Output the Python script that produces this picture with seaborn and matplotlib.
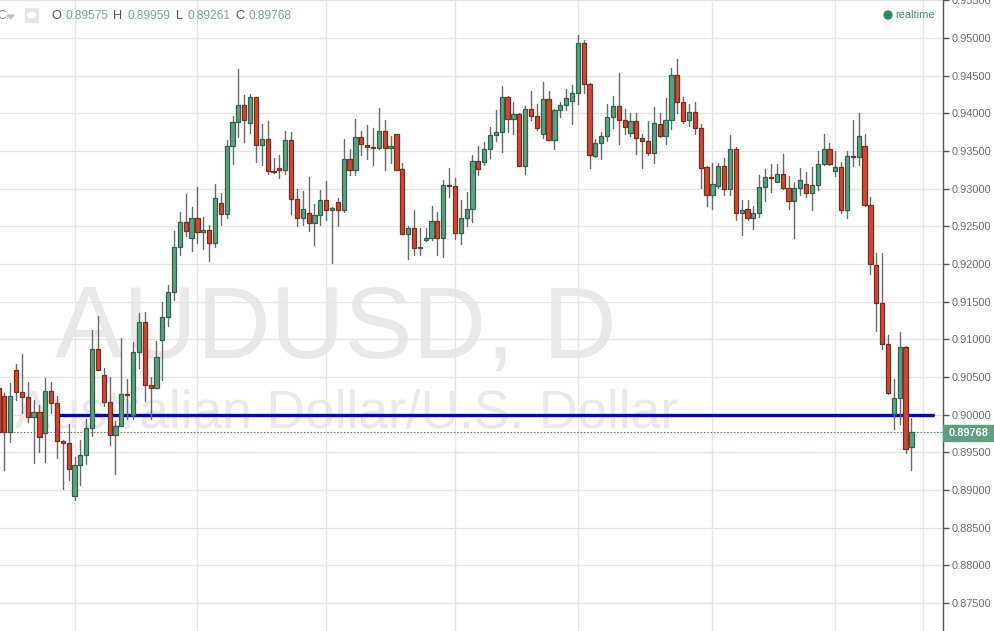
import matplotlib
matplotlib.use("Agg")
import matplotlib.pyplot as plt
from matplotlib.patches import Rectangle, Polygon, Ellipse
import numpy as np
import pandas as pd
import seaborn as sns

# --- chart values ---
opens = [
    .90354, .90252, .8977, .90597, .90301, .90234, .89965, .90035, .89757, .90314,
    .90155, .89651, .89624, .88917, .89333, .89465, .89823, .90871, .90526, .90168,
    .8973, .8985, .90274, .89996, .90831, .91229, .90393, .90354, .9099, .91295,
    .91627, .92223, .92555, .92338, .92608, .92418, .92449, .92272, .92807, .92661,
    .93558, .93881, .94106, .93868, .94212, .93576, .93655, .93231, .93271, .93244,
    .93642, .9286, .92608, .9267, .92537, .92648, .92846, .9271, .9282, .9271,
    .9339, .9324, .93682, .9358, .93549, .93532, .93761, .93532, .93722, .93258,
    .92396, .92475, .9221, .92321, .92338, .92568, .92338, .93045, .93032, .92404,
    .92608, .92727, .93364, .93346, .93523, .93704, .93748, .94212, .9392, .93987,
    .93297, .94053, .9396, .93722, .94186, .93642, .9404, .94106, .94168, .9427,
    .94937, .94393, .93434, .93611, .93691, .93956, .94102, .93916, .93739, .9389,
    .93677, .93633, .93474, .9385, .937, .93903, .94513, .94155, .93916, .94022,
    .9381, .9328, .92908, .93028, .93297, .92988, .93523, .9267, .92727, .92603,
    .92674, .93014, .93151, .93085, .93191, .93006, .92829, .93006, .93059, .92935,
    .93045, .9332, .93523, .93231, .93284, .92714, .9343, .93417, .93563, .9278,
    .91989, .91485, .90941, .90013, .90225, .90897, .89575,
]
highs = [
    .9040, .90287, .9042, .90676, .908, .90429, .90199, .90133, .90482, .90429,
    .90243, .89668, .89881, .89439, .89668, .89947, .91118, .91313, .90619, .905,
    .89916, .91017, .90477, .90968, .91348, .91361, .905, .90981, .9149, .91724,
    .9244, .92687, .9293, .92758, .93023, .92617, .92519, .93059, .92939, .93647,
    .93969, .94588, .94243, .94252, .94212, .93859, .9389, .93408, .93448, .9377,
    .93748, .92997, .9297, .93151, .92798, .92984, .93103, .92758, .92877, .9366,
    .93527, .93925, .9377, .93845, .93801, .94066, .93912, .937, .93722, .93337,
    .92506, .92718, .92475, .92475, .92763, .92692, .93116, .93271, .93138, .92851,
    .92953, .93448, .93567, .93624, .93823, .94044, .94363, .9423, .94146, .94009,
    .94089, .94296, .94124, .9442, .94296, .94053, .94155, .94318, .94371, .95039,
    .94968, .94402, .93664, .93744, .9412, .94226, .94539, .94062, .94009, .93996,
    .93722, .93898, .94084, .93996, .94203, .94601, .94716, .94217, .9412, .9415,
    .9385, .93297, .93333, .93333, .93403, .93713, .93549, .92851, .92851, .92763,
    .93182, .93258, .93328, .93328, .93456, .93169, .93085, .93271, .93218, .93284,
    .93501, .9373, .93611, .93492, .9335, .93501, .93912, .94, .93726, .92882,
    .92148, .92148, .91052, .90469, .91092, .90915, .89959,
]
lows = [
    .8985, .89262, .89642, .90199, .90022, .89898, .89355, .895, .89368, .90022,
    .89421, .89014, .89138, .88873, .89072, .8935, .89713, .9059, .9011, .89602,
    .89218, .8985, .89947, .89943, .90623, .90186, .89943, .90354, .90455, .9118,
    .91525, .92122, .92365, .92166, .92276, .92197, .92038, .92219, .92511, .92603,
    .93324, .93682, .93616, .93735, .9335, .93311, .93196, .9321, .93138, .93196,
    .92661, .92506, .92519, .92431, .92254, .92511, .92586, .92007, .92506, .92683,
    .93174, .93174, .93448, .9339, .93315, .9352, .93249, .93337, .9324, .92396,
    .92069, .92122, .92122, .923, .92312, .92122, .92086, .92882, .92334, .92267,
    .92506, .92559, .93174, .93315, .93399, .93633, .93479, .93744, .93726, .93297,
    .93196, .93903, .9378, .93669, .93642, .93527, .93943, .94044, .93854, .9412,
    .9427, .93275, .9342, .9339, .93629, .93806, .93589, .9373, .937, .93465,
    .93275, .9345, .93342, .93685, .93589, .93788, .94009, .93875, .93828, .93722,
    .9301, .92771, .92727, .93008, .92917, .92908, .92577, .92378, .92577, .92462,
    .9262, .92829, .92957, .93085, .93, .92732, .92343, .92917, .92886, .9271,
    .92984, .9331, .9331, .93169, .9267, .92608, .93293, .93315, .9277, .91865,
    .91105, .90866, .9028, .89806, .89872, .89492, .89261,
]
closes = [
    .8977, .8977, .90252, .90301, .90234, .89965, .90035, .89704, .90314, .9015,
    .89651, .89624, .8928, .89333, .89465, .89823, .90871, .90592, .90168, .8973,
    .8985, .90274, .90256, .90831, .91229, .90393, .90354, .90765, .91295, .91627,
    .92223, .92555, .92431, .92608, .92418, .92449, .92272, .92873, .92661, .93563,
    .93881, .94106, .93903, .94212, .93576, .93655, .93231, .93222, .9324, .93642,
    .9286, .92608, .92727, .92537, .92648, .92846, .9271, .9274, .9271, .9339,
    .9324, .93682, .93585, .93549, .93532, .93761, .93532, .93563, .93249, .92396,
    .92475, .9221, .92223, .92343, .92568, .92338, .93045, .93036, .92404, .92608,
    .92727, .93364, .93258, .93523, .93704, .93748, .94212, .9392, .93987, .93297,
    .94053, .9396, .93797, .94186, .93642, .9404, .94106, .94199, .9427, .94937,
    .94393, .93439, .93611, .93691, .93956, .94102, .93916, .93819, .9389, .93677,
    .93633, .93474, .93876, .93695, .93903, .94513, .94155, .9389, .94022, .9381,
    .93275, .92908, .93054, .93297, .92988, .93523, .92674, .92714, .92603, .92674,
    .93019, .93151, .93134, .93191, .93006, .92829, .93006, .93112, .92935, .93045,
    .93324, .93523, .93324, .93284, .92714, .9343, .93417, .93695, .92776, .91993,
    .91485, .90941, .90292, .90225, .90897, .89549, .89768,
]
price_ticks = [.875, .88, .885, .89, .895, .90, .905, .91, .915, .92, .925, .93,
               .935, .94, .945, .95, .955]
day_gridlines = [13, 34, 56, 78, 99, 122, 143, 158]
level_start = 10.4
level_end = 159.7
level_price = 0.90
last_price = 0.89768
header = [("O", "0.89575"), ("H", "0.89959"), ("L", "0.89261"), ("C", "0.89768")]
watermark_big = "AUDUSD, D"
watermark_small = "Australian Dollar/U.S. Dollar"

# --- style ---
W, H = 994, 631
green = '#5f9f80'
green_edge = '#2b6549'
red = '#cc4a33'
red_edge = '#7e2a1c'
wick = '#6a6a6a'
grid_col = '#e6e6e6'
label_col = '#6e6e6e'

sns.set_theme(style="white")
plt.rcParams['font.family'] = ['Liberation Sans', 'DejaVu Sans']

df = pd.DataFrame({'day': np.arange(len(opens)), 'open': opens, 'high': highs,
                   'low': lows, 'close': closes})
df['body_low'] = df[['open', 'close']].min(axis=1)
df['body'] = (df['close'] - df['open']).abs()
up = df[df['close'] >= df['open']]
down = df[df['close'] < df['open']]
wicks = df.melt(id_vars='day', value_vars=['high', 'low'], value_name='price')

fig = plt.figure(figsize=(W / 100, H / 100), dpi=100)
ax = fig.add_axes([0, 0, 943 / W, 1])

ax.set_axisbelow(True)
ax.grid(True, color=grid_col, lw=1)

# background symbol text sits under the candles
ax.text(55 / 943, 1 - 358 / H, watermark_big, transform=ax.transAxes, fontsize=73.5,
        color='#e9e9e9', zorder=0.5, va='baseline', ha='left')
ax.text(15 / 943, 1 - 427 / H, watermark_small, transform=ax.transAxes, fontsize=38.3,
        color='#e9e9e9', zorder=0.5, va='baseline', ha='left')

# the 0.90 level runs beneath the candles
ax.axhline(last_price, color='#4f8a6c', lw=0.8, ls=(0, (1.5, 1.5)), zorder=1.2)
sns.lineplot(x=[level_start, level_end], y=[level_price, level_price], color='#0505c8',
             lw=2.4, ax=ax, zorder=1.5, legend=False)

sns.lineplot(data=wicks, x='day', y='price', units='day', estimator=None, color=wick,
             lw=1, ax=ax, zorder=2, legend=False)
sns.barplot(data=up, x='day', y='body', bottom=up['body_low'].values, native_scale=True,
            width=0.72, color=green, edgecolor=green_edge, linewidth=0.9, saturation=1,
            errorbar=None, ax=ax, zorder=3)
sns.barplot(data=down, x='day', y='body', bottom=down['body_low'].values, native_scale=True,
            width=0.72, color=red, edgecolor=red_edge, linewidth=0.9, saturation=1,
            errorbar=None, ax=ax, zorder=3)

# pixel mapping of the reference: 0.90 at y=414.5, 37.7 px per 0.005
ax.set_xlim(0.265, 161.4)
ax.set_ylim(.9 - (H - 414.5) / 7540, .95502)
ax.set_xticks(day_gridlines)
ax.set_xticklabels([])
ax.tick_params(axis='x', length=0)
ax.yaxis.tick_right()
ax.set_yticks(price_ticks)
ax.set_yticklabels([f"{p:.5f}" for p in price_ticks], fontsize=7.9, color=label_col)
ax.tick_params(axis='y', length=4, width=1, color='#555555', pad=2, right=True)
ax.set_xlabel('')
ax.set_ylabel('')
for side in ['left', 'top', 'bottom']:
    ax.spines[side].set_visible(False)
ax.spines['right'].set_color('#555555')
ax.spines['right'].set_linewidth(1)

def px(x, y):
    return x / W, 1 - y / H

# last price tag
fig.add_artist(Rectangle(px(943, 441), 51 / W, 16 / H, color='#5f9f80', transform=fig.transFigure))
fig.text(*px(968.5, 433), "0.89768", color='white', fontsize=7.9, fontweight='bold',
         ha='center', va='center')

# header row
for (name, val), x in zip(header, [51, 113, 176, 235]):
    fig.text(*px(x, 16), name, color='#555555', fontsize=9.2, ha='left', va='center')
    off = 14 if name != 'L' else 12
    fig.text(*px(x + off, 16), val, color='#74a990', fontsize=8.6, ha='left', va='center')
fig.text(*px(-3, 16), "C", color='#888888', fontsize=8.6, ha='left', va='center')
fig.add_artist(Polygon([px(7, 15), px(14, 15), px(10.5, 19)], color='#c4c4c4', transform=fig.transFigure))
fig.add_artist(Rectangle(px(25, 22), 13 / W, 14 / H, color='#e6e6e6', transform=fig.transFigure))
fig.add_artist(Ellipse(px(31.5, 15), 8 / W, 5 / H, color='white', transform=fig.transFigure))

# realtime marker
fig.add_artist(Ellipse(px(888, 15), 8 / W, 8 / H, color='#2e8b5c', transform=fig.transFigure))
fig.text(*px(895, 15), "realtime", color='#3f8f68', fontsize=7.9, ha='left', va='center')

fig.savefig("out.png", dpi=100, facecolor='white')
